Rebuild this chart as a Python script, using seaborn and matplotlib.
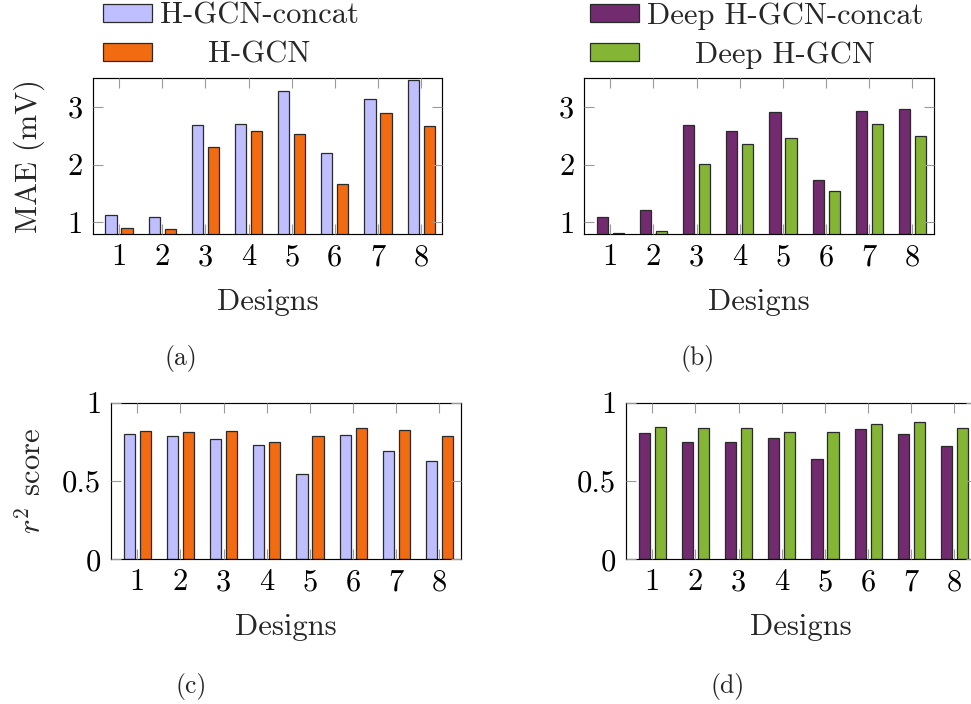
import matplotlib
matplotlib.use("Agg")
import matplotlib.pyplot as plt
import numpy as np
import pandas as pd
import seaborn as sns

# ---------------- data ----------------
designs = ['1', '2', '3', '4', '5', '6', '7', '8']

mae_hgcn_concat = [1.13, 1.10, 2.69, 2.71, 3.27, 2.20, 3.13, 3.46]
mae_hgcn = [0.91, 0.885, 2.31, 2.58, 2.53, 1.66, 2.90, 2.67]
mae_deep_concat = [1.09, 1.22, 2.68, 2.58, 2.91, 1.74, 2.93, 2.96]
mae_deep_hgcn = [0.82, 0.86, 2.01, 2.35, 2.46, 1.54, 2.71, 2.50]

r2_hgcn_concat = [0.798, 0.785, 0.768, 0.732, 0.545, 0.796, 0.694, 0.628]
r2_hgcn = [0.821, 0.815, 0.817, 0.747, 0.785, 0.836, 0.826, 0.785]
r2_deep_concat = [0.806, 0.749, 0.751, 0.772, 0.640, 0.830, 0.798, 0.721]
r2_deep_hgcn = [0.843, 0.840, 0.840, 0.815, 0.815, 0.866, 0.874, 0.840]

models_left = ['H-GCN-concat', 'H-GCN']
models_right = ['Deep H-GCN-concat', 'Deep H-GCN']
colors_left = ['#BFBFFF', '#F26B11']
colors_right = ['#722B6F', '#85B535']

mae_ticks = [1, 2, 3]
r2_ticks = [0, 0.5, 1]
r2_ticklabels = ['0', '0.5', '1']
captions = ['(a)', '(b)', '(c)', '(d)']


def long_df(a, b, names, col):
    return pd.DataFrame({
        'Designs': designs * 2,
        col: list(a) + list(b),
        'model': [names[0]] * len(designs) + [names[1]] * len(designs),
    })


# ---------------- style ----------------
sns.set_style('white')
plt.rcParams['font.family'] = ['cmr10', 'DejaVu Serif']
plt.rcParams['mathtext.fontset'] = 'cm'
plt.rcParams['axes.formatter.use_mathtext'] = True
plt.rcParams['axes.unicode_minus'] = False

FS = 22
W, H = 971, 704
fig = plt.figure(figsize=(W / 100, H / 100), dpi=100)


def px_axes(left, top, right, bottom):
    return fig.add_axes([left / W, 1 - bottom / H, (right - left) / W, (bottom - top) / H])


ax_a = px_axes(92.7, 78, 442.3, 234)
ax_b = px_axes(584, 78, 933.6, 234)
ax_c = px_axes(111, 402.7, 460.6, 559.3)
ax_d = px_axes(626, 402.7, 975.6, 559.3)

panels = [
    (ax_a, long_df(mae_hgcn_concat, mae_hgcn, models_left, 'MAE'), 'MAE', colors_left, models_left, True),
    (ax_b, long_df(mae_deep_concat, mae_deep_hgcn, models_right, 'MAE'), 'MAE', colors_right, models_right, True),
    (ax_c, long_df(r2_hgcn_concat, r2_hgcn, models_left, 'r2'), 'r2', colors_left, models_left, False),
    (ax_d, long_df(r2_deep_concat, r2_deep_hgcn, models_right, 'r2'), 'r2', colors_right, models_right, False),
]

for ax, df, col, cols, names, top in panels:
    sns.barplot(data=df, x='Designs', y=col, hue='model', hue_order=names,
                order=designs, palette=cols, errorbar=None, width=0.74, gap=0.3,
                edgecolor='#2a2a2a', linewidth=0.9, saturation=1, ax=ax, legend=top)
    ax.set_xlim(-0.61, 7.49)
    for s in ax.spines.values():
        s.set_color('black')
        s.set_linewidth(0.85)
    ax.tick_params(axis='both', which='major', direction='in', length=7.5, width=0.8,
                   color='#9a9a9a', labelcolor='black', labelsize=FS, pad=7,
                   top=True, right=True, bottom=True, left=True)
    ax.set_xlabel('Designs', fontsize=FS)
    ax.xaxis.label.set_va('center')
    ax.xaxis.set_label_coords(0.5, -(302 - 234) / 156)
    ax.set_axisbelow(False)
    for b in ax.patches:
        b.set_zorder(1)
    if col == 'MAE':
        ax.set_ylim(0.8, 3.5)
        ax.set_yticks(mae_ticks)
        ax.set_yticklabels([str(t) for t in mae_ticks])
    else:
        ax.set_ylim(0, 1)
        ax.set_yticks(r2_ticks)
        ax.set_yticklabels(r2_ticklabels)
    ax.set_ylabel('')

ax_a.set_ylabel('MAE (mV)', fontsize=FS, va='center', ha='center')
ax_a.yaxis.set_label_coords((29 - 92.7) / 349.6, 0.5)
ax_c.set_ylabel(r'$r^2$ score', fontsize=FS, va='center', ha='center')
ax_c.yaxis.set_label_coords((31 - 111) / 349.6, 0.5)

# legends above the top panels
legends = []
for ax, x0 in [(ax_a, 103), (ax_b, 590)]:
    h, l = ax.get_legend_handles_labels()
    leg = ax.legend(h, l, loc='center left', bbox_to_anchor=(x0 / W, 1 - 35.5 / H),
                    bbox_transform=fig.transFigure, frameon=False, fontsize=FS,
                    handlelength=1.6, handleheight=0.55, handletextpad=0.25,
                    labelspacing=0.37, borderpad=0, borderaxespad=0)
    for p in leg.get_patches():
        p.set_edgecolor('#2a2a2a')
        p.set_linewidth(0.9)
    legends.append(leg)

fig.canvas.draw()
for leg in legends:
    texts = leg.get_texts()
    widths = [t.get_window_extent().width for t in texts]
    wmax = max(widths)
    for t, w in zip(texts, widths):
        t.set_x((wmax - w) / 2)

# captions
for cap, (x, y) in zip(captions, [(181, 358), (698, 358), (191, 686), (728, 686)]):
    fig.text(x / W, 1 - y / H, cap, fontsize=18.5, ha='center', va='center')

fig.savefig('out.png', dpi=100)
